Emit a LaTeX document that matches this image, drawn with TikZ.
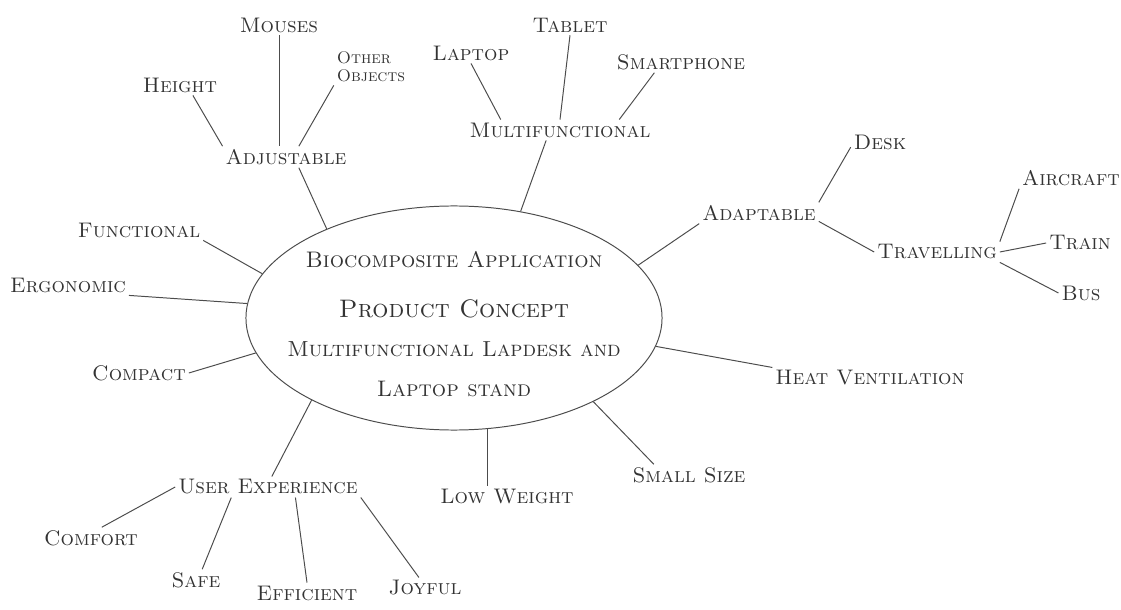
\documentclass[tikz,border=0pt]{standalone}
\usepackage{tikz}
\usetikzlibrary{shapes.geometric, calc}

\definecolor{ink}{gray}{0.2}
\definecolor{pencil}{gray}{0.3}

\begin{document}
\begin{tikzpicture}[
    x=0.025cm, y=-0.025cm,
    hub/.style={ellipse, draw=pencil, line width=0.7pt, minimum width=10.4cm, minimum height=5.6cm, align=center, text=ink, inner ysep=0pt, inner xsep=-2cm, font=\scshape\fontsize{16}{28.5}\selectfont},
    idea/.style={text=ink, font=\scshape\fontsize{15}{17}\selectfont, inner sep=2pt},
    small idea/.style={idea, font=\scshape\fontsize{12}{13}\selectfont, align=left},
    link/.style={draw=pencil, line width=0.7pt}
]
\useasboundingbox (0,0) rectangle (1121,610);

\node (core) [hub] at (454,318) {\rule{0pt}{20pt}Biocomposite Application\\[7pt]
    {\fontsize{18}{28.5}\selectfont Product Concept}\\[-1pt]
    {\fontsize{15.5}{28.5}\selectfont Multifunctional Lapdesk and}\\
    Laptop stand};

\node (adjust) [idea] at (286,157) {Adjustable};
\node (height) [idea] at (180,85) {Height};
\node (mouses) [idea] at (279,25) {Mouses};
\node (objects) [small idea] at (371,67) {Other\\Objects};

\node (multi) [idea] at (560,130) {Multifunctional};
\node (laptop) [idea] at (471,53) {Laptop};
\node (tablet) [idea] at (570,25) {Tablet};
\node (phone) [idea] at (681,62) {Smartphone};

\node (adapt) [idea] at (759,213) {Adaptable};
\node (desk) [idea] at (880,142) {Desk};
\node (travel) [idea] at (937,252) {Travelling};
\node (aircraft) [idea] at (1071,178) {Aircraft};
\node (train) [idea] at (1080,243) {Train};
\node (bus) [idea] at (1081,293) {Bus};

\node (functional) [idea] at (139,230) {Functional};
\node (ergonomic) [idea] at (68,285) {Ergonomic};
\node (compact) [idea] at (139,373) {Compact};
\node (heat) [idea] at (870,378) {Heat Ventilation};
\node (small) [idea] at (689,475) {Small Size};
\node (low) [idea] at (507,497) {Low Weight};

\node (ux) [idea] at (268,487) {User Experience};
\node (comfort) [idea] at (91,538) {Comfort};
\node (safe) [idea] at (196,580) {Safe};
\node (efficient) [idea] at (307,593) {Efficient};
\node (joyful) [idea] at (425,588) {Joyful};

% branches of the core
\draw [link] (core.145) -- (adjust.-40);
\draw [link] (core.58) -- (multi.-143);
\draw [link] (core.16) -- (adapt.south west);
\draw [link] (core.-8) -- (heat.north west);
\draw [link] (core.-31) -- (small.163);
\draw [link] (core.-73) -- (core.-73 |- low.north);
\draw [link] (core.210) -- (ux.70);
\draw [link] (core.190) -- (compact.east);
\draw [link] (core.176) -- (ergonomic.south east);
\draw [link] (core.167) -- (functional.south east);

% adjustable
\draw [link] (adjust.north west) -- (height.-39);
\draw [link] (mouses.south) -- (mouses.south |- adjust.north);
\draw [link] (adjust.40) -- (objects.south west);

% multifunctional
\draw [link] (multi.170) -- (laptop.south);
\draw [link] (multi.north) -- (tablet.south);
\draw [link] (multi.10) -- (phone.-158);

% adaptable
\draw [link] (adapt.north east) -- (desk.190);
\draw [link] (adapt.-8) -- (travel.west);
\draw [link] (travel.north east) -- (aircraft.south west);
\draw [link] (travel.east) -- (train.west);
\draw [link] (travel.south east) -- (bus.west);

% user experience
\draw [link] (ux.west) -- (comfort.45);
\draw [link] (ux.196) -- (safe.60);
\draw [link] (ux.-21) -- (efficient.north);
\draw [link] (ux.south east) -- (joyful.120);

\end{tikzpicture}
\end{document}
